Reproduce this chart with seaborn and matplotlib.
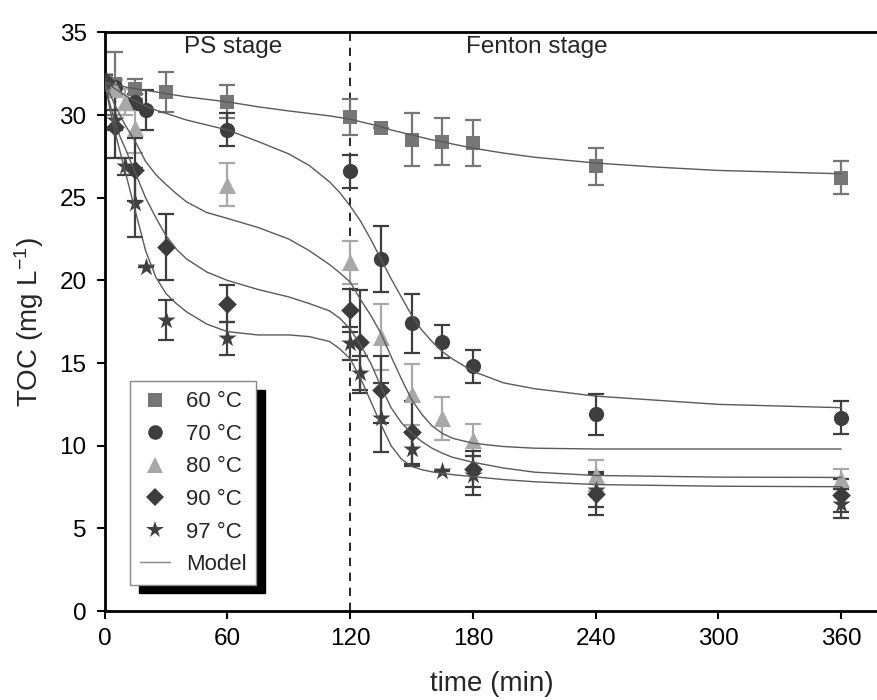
import numpy as np
import pandas as pd
import matplotlib
matplotlib.use("Agg")
import matplotlib.pyplot as plt
import seaborn as sns
from matplotlib.lines import Line2D

sns.set_theme(style="white")
plt.rcParams['font.family'] = ['Liberation Sans', 'DejaVu Sans']
plt.rcParams['mathtext.default'] = 'regular'

# ---------------- measured data ----------------
T60 = [0, 5, 15, 30, 60, 120, 135, 150, 165, 180, 240, 360]
TOC60 = [32.0, 31.9, 31.6, 31.4, 30.8, 29.9, 29.2, 28.5, 28.4, 28.3, 26.9, 26.2]
ERR60 = [0.4, 1.9, 0.6, 1.2, 1.0, 1.1, 0.0, 1.6, 1.4, 1.4, 1.1, 1.0]

T70 = [0, 5, 15, 20, 60, 120, 135, 150, 165, 180, 240, 360]
TOC70 = [32.0, 31.7, 30.8, 30.3, 29.1, 26.6, 21.3, 17.4, 16.3, 14.8, 11.9, 11.7]
ERR70 = [0.4, 0.4, 0.5, 1.2, 1.0, 1.0, 2.0, 1.8, 1.0, 1.0, 1.25, 1.0]

T80 = [0, 5, 10, 15, 60, 120, 135, 150, 165, 180, 240, 360]
TOC80 = [32.0, 31.6, 30.8, 29.2, 25.8, 21.1, 16.6, 13.1, 11.65, 10.35, 8.2, 8.0]
ERR80 = [0.4, 0.5, 0.8, 1.5, 1.3, 1.3, 2.0, 1.85, 1.3, 0.95, 0.95, 0.6]

T90 = [0, 5, 15, 30, 60, 120, 125, 135, 150, 180, 240, 360]
TOC90 = [32.0, 29.3, 26.7, 22.0, 18.6, 18.2, 16.3, 13.4, 10.8, 8.6, 7.1, 7.0]
ERR90 = [0.4, 1.9, 1.9, 2.0, 1.1, 1.3, 3.1, 2.0, 1.9, 1.1, 1.3, 1.0]

T97 = [0, 5, 10, 15, 20, 30, 60, 120, 125, 135, 150, 165, 180, 240, 360]
TOC97 = [32.0, 29.7, 26.9, 24.7, 20.8, 17.6, 16.5, 16.2, 14.4, 11.7, 9.8, 8.5, 8.2, 7.3, 6.5]
ERR97 = [0.4, 0.6, 0.5, 2.1, 0.0, 1.2, 1.0, 1.0, 1.0, 2.1, 1.0, 0.0, 1.2, 1.0, 0.9]

# ---------------- model curves ----------------
MT = [0, 2.5, 5, 7.5, 10, 15, 20, 25, 30, 35, 40, 50, 60,
      75, 90, 100, 110, 115, 120, 125, 130, 135, 140, 145, 150, 155, 160,
      165, 170, 180, 195, 210, 240, 270, 300, 360]
M60 = [32.0, 31.93, 31.85, 31.78, 31.7, 31.6, 31.5, 31.4, 31.3, 31.2, 31.1, 30.95, 30.8,
       30.5, 30.25, 30.1, 29.95, 29.85, 29.75, 29.6, 29.45, 29.3, 29.1, 28.95, 28.8,
       28.65, 28.5, 28.4, 28.25, 28.0, 27.7, 27.45, 27.1, 26.85, 26.65, 26.45]
M70 = [32.0, 31.8, 31.6, 31.4, 31.2, 30.85, 30.55, 30.3, 30.1, 29.9, 29.7, 29.4, 29.1,
       28.4, 27.65, 26.95, 25.95, 25.3, 24.5, 23.6, 22.5, 21.3, 20.1, 19.0, 17.9,
       17.0, 16.3, 15.7, 15.25, 14.5, 13.8, 13.45, 13.0, 12.75, 12.5, 12.3]
M80 = [32.0, 31.3, 30.6, 30.0, 29.4, 28.4, 27.2, 26.4, 25.8, 25.25, 24.75, 24.1, 23.75,
       23.2, 22.5, 21.8, 20.95, 20.45, 19.9, 18.85, 17.9, 16.8, 15.4, 14.05, 12.8,
       11.9, 11.2, 10.75, 10.45, 10.15, 9.95, 9.85, 9.8, 9.8, 9.8, 9.8]
M90 = [32.0, 30.7, 29.6, 28.7, 28.0, 26.5, 25.0, 23.8, 22.7, 21.9, 21.3, 20.5, 20.0,
       19.45, 19.0, 18.6, 18.15, 17.7, 17.05, 16.1, 15.0, 13.6, 12.3, 11.4, 10.75,
       10.25, 9.85, 9.55, 9.3, 9.0, 8.65, 8.4, 8.2, 8.15, 8.1, 8.08]
M97 = [32.0, 30.4, 29.0, 27.8, 26.6, 24.2, 21.8, 20.2, 19.2, 18.6, 18.1, 17.35, 16.9,
       16.7, 16.7, 16.6, 16.3, 15.85, 15.25, 14.1, 12.7, 11.3, 10.0, 9.2, 8.75,
       8.55, 8.42, 8.33, 8.25, 8.13, 7.95, 7.82, 7.65, 7.6, 7.55, 7.52]

LABELS = ["60 \u00b0C", "70 \u00b0C", "80 \u00b0C", "90 \u00b0C", "97 \u00b0C"]
XTICKS = [0, 60, 120, 180, 240, 300, 360]
YTICKS = [0, 5, 10, 15, 20, 25, 30, 35]

series = [
    (T60, TOC60, ERR60, M60, 's', 95, 10, '#767676'),
    (T70, TOC70, ERR70, M70, 'o', 120, 10.5, '#3e3e3e'),
    (T80, TOC80, ERR80, M80, '^', 150, 11.5, '#a8a8a8'),
    (T90, TOC90, ERR90, M90, 'D', 90, 9.5, '#3c3c3c'),
    (T97, TOC97, ERR97, M97, '*', 190, 13, '#404040'),
]

fig = plt.figure(figsize=(8.78, 7.0), dpi=100)
fig.patch.set_facecolor('white')
ax = fig.add_axes([0.1192, 0.1271, 0.8808, 0.8266])

model_color = '#5a5a5a'
for (t, y, e, m, mk, s, ms, c), lab in zip(series, LABELS):
    ax.errorbar(t, y, yerr=e, fmt='none', ecolor=c, elinewidth=1.6,
                capsize=5.5, capthick=1.6, zorder=2)
    sns.scatterplot(x=t, y=y, marker=mk, s=s, color=c, linewidth=0,
                    ax=ax, zorder=3, legend=False)
    dfm = pd.DataFrame({'t': MT, 'TOC': m})
    sns.lineplot(data=dfm, x='t', y='TOC', color=model_color, lw=1.0,
                 ax=ax, zorder=4, estimator=None, sort=False)

ax.axvline(120, color='black', ls=(0, (5, 4)), lw=1.2, zorder=1)

ax.set_xlim(0, 378)
ax.set_ylim(0, 35)
ax.set_xticks(XTICKS)
ax.set_yticks(YTICKS)
ax.tick_params(axis='both', direction='out', length=6, width=1.5,
               left=True, bottom=True, colors='black')
ax.tick_params(axis='y', labelsize=17.5, pad=7)
ax.tick_params(axis='x', labelsize=17.5, pad=6)
for lab in ax.get_xticklabels():
    lab.set_fontfamily(['Liberation Sans Narrow', 'Liberation Sans'])

for side in ['left', 'bottom', 'top']:
    ax.spines[side].set_visible(True)
    ax.spines[side].set_color('black')
    ax.spines[side].set_linewidth(2.0)
ax.spines['right'].set_visible(False)

ax.set_xlabel('time (min)', fontsize=20, labelpad=15)
ax.set_ylabel('TOC (mg L$^{-1}$)', fontsize=20, labelpad=10)

ax.text(63, 34.1, 'PS stage', fontsize=17.5, ha='center', va='center')
ax.text(211, 34.1, 'Fenton stage', fontsize=17.5, ha='center', va='center')

handles = []
for (t, y, e, m, mk, s, ms, c) in series:
    handles.append(Line2D([], [], marker=mk, ls='none', color=c,
                          markersize=ms, markeredgewidth=0))
handles.append(Line2D([], [], color='#888888', lw=1.0))
leg = ax.legend(handles, LABELS + ['Model'], loc='upper left',
                bbox_to_anchor=(0.033, 0.397), borderaxespad=0,
                fontsize=16, frameon=True, fancybox=False,
                shadow={'ox': 6, 'oy': -6, 'color': 'black', 'alpha': 1},
                edgecolor='#888888', framealpha=1, handlelength=1.35,
                handletextpad=0.7, labelspacing=0.52, borderpad=0.45)
leg.get_frame().set_linewidth(1.0)

fig.savefig('out.png', dpi=100, facecolor='white')
